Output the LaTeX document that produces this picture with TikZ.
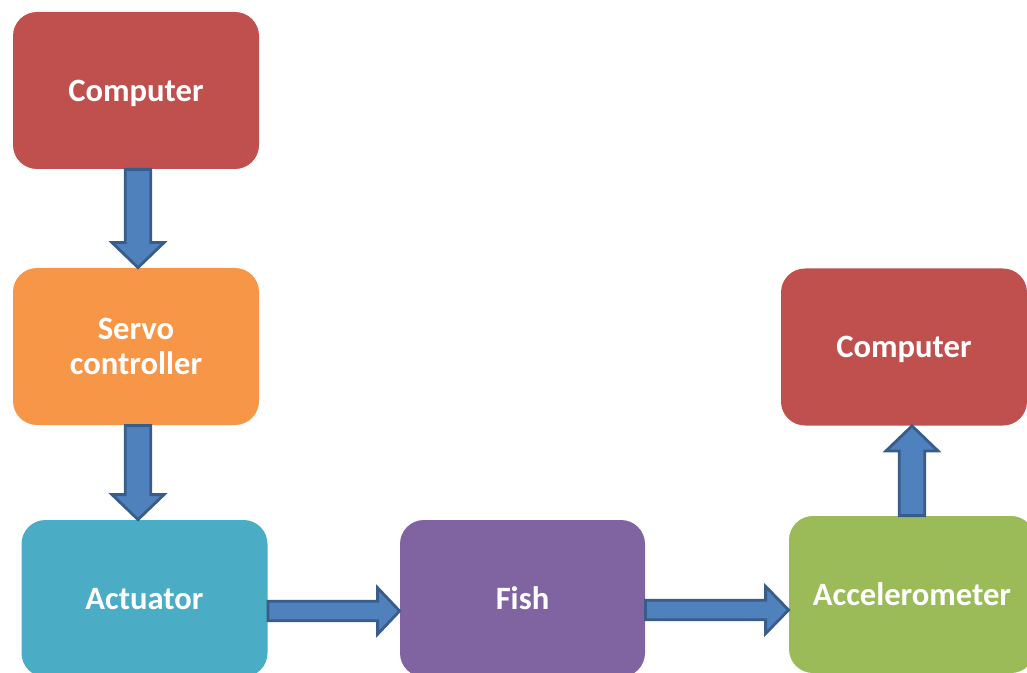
\documentclass[tikz,border=0pt]{standalone}
\usepackage{fontspec}
\setmainfont{Carlito}
\usetikzlibrary{calc}
\definecolor{cRed}{HTML}{C0504D}
\definecolor{cOrange}{HTML}{F79646}
\definecolor{cAqua}{HTML}{4BACC6}
\definecolor{cPurple}{HTML}{8064A2}
\definecolor{cGreen}{HTML}{9BBB59}
\definecolor{arrowFill}{HTML}{4F81BD}
\definecolor{arrowLine}{HTML}{385D8A}

\begin{document}
\begin{tikzpicture}[x=0.5pt,y=-0.5pt,
 box/.style={rectangle,rounded corners=12pt,minimum width=123pt,minimum height=78.5pt,
  inner sep=0pt,text=white,align=center,text depth=0pt,font=\bfseries\fontsize{16.3}{17.5}\selectfont},
 fat/.style n args={3}{draw=arrowLine,fill=arrowFill,line width=1.4pt,
  to path={($(\tikztostart)!#1!90:(\tikztotarget)$)
   -- ($(\tikztotarget)!#3!(\tikztostart)!#1!90:(\tikztotarget)$)
   -- ($(\tikztotarget)!#3!(\tikztostart)!#2!90:(\tikztotarget)$)
   -- (\tikztotarget)
   -- ($(\tikztotarget)!#3!(\tikztostart)!#2!-90:(\tikztotarget)$)
   -- ($(\tikztotarget)!#3!(\tikztostart)!#1!-90:(\tikztotarget)$)
   -- ($(\tikztostart)!#1!-90:(\tikztotarget)$) -- cycle}}]
\useasboundingbox (0,0) rectangle (1027,673);
\clip (0,0) rectangle (1027,673);
\node[box,fill=cRed] (comp1) at (136,90.5) {Computer};
\node[box,fill=cOrange] (servo) at (136,346.5) {Servo\\controller};
\node[box,fill=cAqua] (act) at (144.5,598.5) {Actuator};
\node[box,fill=cPurple,minimum width=122.5pt] (fish) at (522.5,598.5) {Fish};
\node[box,fill=cGreen] (accel) at (912,594.5) {Accelerometer};
\node[box,fill=cRed] (comp2) at (904,347) {Computer};
\coordinate (f4) at ([yshift=-5.75pt]fish.east);
\draw[fat={6.4pt}{13pt}{12.5pt}] ([xshift=1pt]comp1.south) to ([xshift=1pt]servo.north);
\draw[fat={6.4pt}{13pt}{12.5pt}] ([xshift=1pt]servo.south) to ([xshift=1pt]servo.south |- act.north);
\draw[fat={4.9pt}{11.6pt}{11pt}] ([yshift=-6.25pt]act.east) to ([yshift=-6.25pt]fish.west);
\draw[fat={4.9pt}{11.8pt}{11.5pt}] (f4) to (f4 -| accel.west);
\draw[fat={6.4pt}{13pt}{12.5pt}] (accel.north) to (accel.north |- comp2.south);
\end{tikzpicture}
\end{document}
